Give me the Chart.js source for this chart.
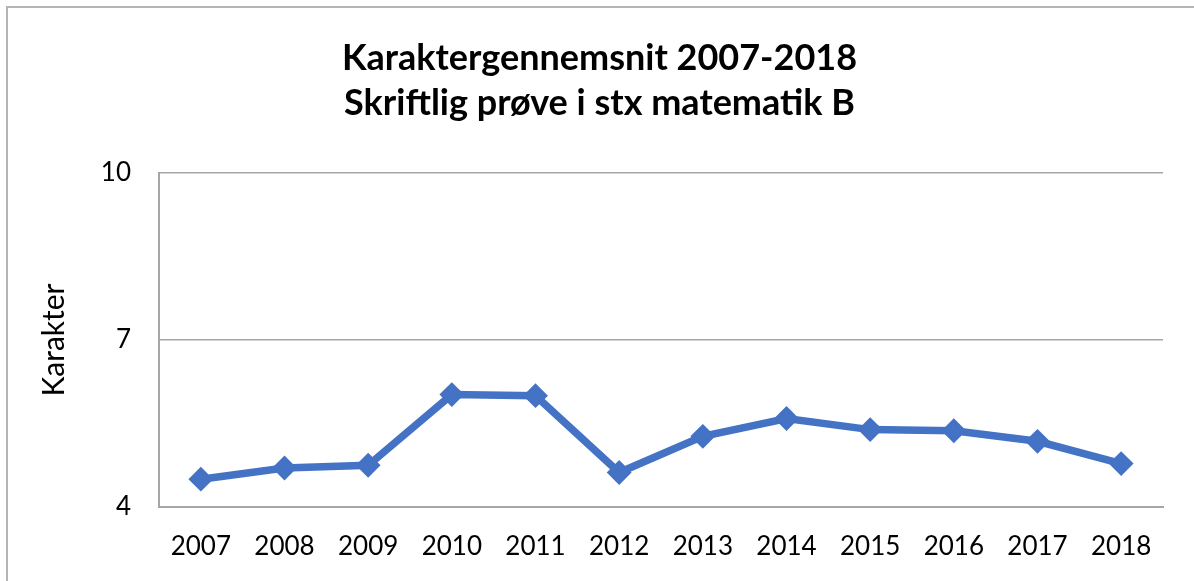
<!DOCTYPE html>
<html>
<head>
<meta charset="utf-8">
<script src="https://cdn.jsdelivr.net/npm/chart.js@4.4.1/dist/chart.umd.min.js"></script>
<style>
html,body{margin:0;padding:0;background:#fff;}
#wrap{position:relative;width:1194px;height:581px;}
</style>
</head>
<body>
<div id="wrap"><canvas id="c" width="1194" height="581"></canvas></div>
<script>
const years = ['2007','2008','2009','2010','2011','2012','2013','2014','2015','2016','2017','2018'];
const averages = [4.50, 4.70, 4.75, 6.02, 6.00, 4.62, 5.27, 5.59, 5.39, 5.37, 5.18, 4.78];
const titleLines = ['Karaktergennemsnit 2007-2018', 'Skriftlig prøve i stx matematik B'];
const yAxisTitle = 'Karakter';
const yMin = 4, yMax = 10, yStep = 3;

const FONT = 'Lato, "Open Sans", sans-serif';

const frame = {
  id: 'frame',
  beforeDraw(chart) {
    const ctx = chart.ctx;
    ctx.save();
    ctx.fillStyle = '#ffffff';
    ctx.fillRect(0, 0, chart.width, chart.height);
    ctx.strokeStyle = '#b4b4b4';
    ctx.lineWidth = 2;
    ctx.beginPath();
    ctx.moveTo(7, chart.height);
    ctx.lineTo(7, 7);
    ctx.lineTo(chart.width, 7);
    ctx.stroke();
    ctx.restore();
  }
};

new Chart(document.getElementById('c'), {
  type: 'line',
  data: {
    labels: years,
    datasets: [{
      data: averages,
      borderColor: '#4472C4',
      backgroundColor: '#4472C4',
      borderWidth: 7.5,
      pointStyle: 'rectRot',
      pointRadius: 11,
      pointBorderWidth: 2,
      pointBackgroundColor: '#4472C4',
      pointBorderColor: '#4472C4',
      tension: 0,
      fill: false
    }]
  },
  options: {
    responsive: false,
    animation: false,
    layout: { padding: { left: 36, right: 31, top: 10, bottom: 0 } },
    plugins: {
      legend: { display: false },
      tooltip: { enabled: false },
      title: {
        display: true,
        text: titleLines,
        color: '#000',
        font: { family: FONT, size: 36, weight: 'bold', lineHeight: 1.25 },
        padding: { top: 26, bottom: 47 }
      }
    },
    scales: {
      x: {
        offset: true,
        grid: { display: false, drawTicks: false },
        border: { display: true, color: '#a6a6a6', width: 2 },
        ticks: { color: '#000', font: { family: FONT, size: 26 }, padding: 24, maxRotation: 0 },
        afterFit(s) { s.height = 74; }
      },
      y: {
        min: yMin, max: yMax,
        grid: { color: '#a6a6a6', lineWidth: 1.5, drawTicks: false },
        border: { display: true, color: '#a6a6a6', width: 2 },
        ticks: { stepSize: yStep, color: '#000', font: { family: FONT, size: 26 }, padding: 28 },
        title: { display: true, text: yAxisTitle, color: '#000', font: { family: FONT, size: 30 }, padding: { top: 0, bottom: 0 } },
        afterFit(s) { s.width = 123; }
      }
    }
  },
  plugins: [frame]
});
</script>
</body>
</html>
